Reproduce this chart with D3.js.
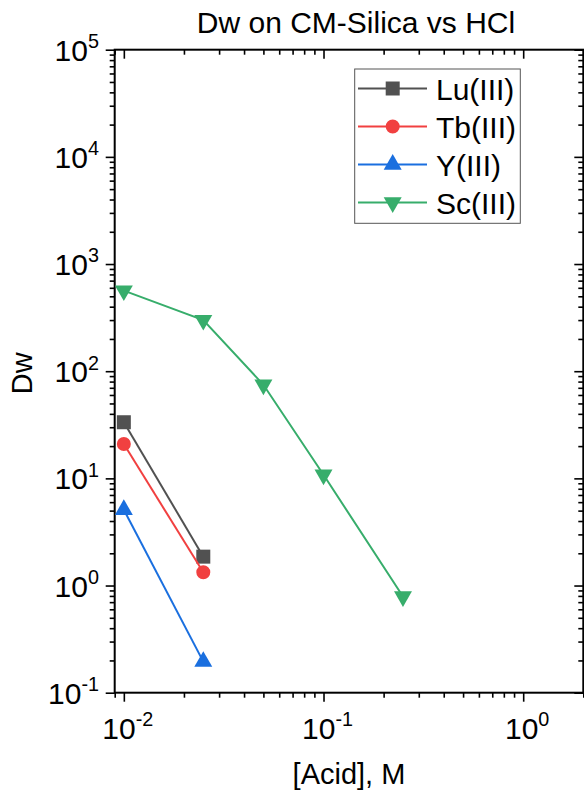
<!DOCTYPE html>
<html>
<head>
<meta charset="utf-8">
<script src="https://cdn.jsdelivr.net/npm/d3@7"></script>
<style>
  html, body { margin: 0; padding: 0; background: #fff; }
  svg { display: block; font-family: Arial, "Liberation Sans", sans-serif; }
</style>
</head>
<body>
<svg id="chart" width="584" height="790"></svg>
<script>
// Acid concentrations (M) for each series
const acidShort = [0.01, 0.025];
const acidSc = [0.01, 0.025, 0.05, 0.1, 0.25];

// Distribution coefficients Dw
const luValues = [33.4, 1.86];
const tbValues = [20.9, 1.33];
const yValues = [5.1, 0.195];
const scValues = [565, 300, 74.7, 10.8, 0.79];

const seriesNames = ["Lu(III)", "Tb(III)", "Y(III)", "Sc(III)"];
const seriesColors = ["#515151", "#F14040", "#1A6FDF", "#37AD6B"];

const xTickValues = [0.01, 0.1, 1];
const yTickValues = [0.1, 1, 10, 100, 1000, 10000, 100000];

const titleText = "Dw on CM-Silica vs HCl";
const xLabel = "[Acid], M";
const yLabel = "Dw";

const series = [
  { name: seriesNames[0], color: seriesColors[0], shape: "square", x: acidShort, y: luValues },
  { name: seriesNames[1], color: seriesColors[1], shape: "circle", x: acidShort, y: tbValues },
  { name: seriesNames[2], color: seriesColors[2], shape: "up", x: acidShort, y: yValues },
  { name: seriesNames[3], color: seriesColors[3], shape: "down", x: acidSc, y: scValues }
];

const svg = d3.select("#chart");
const plotL = 114.7, plotR = 583.3, plotT = 49.7, plotB = 692.7;
const FS = 30;

const x = d3.scaleLog().domain([0.009, 2.0]).range([plotL, plotR]);
const y = d3.scaleLog().domain([0.1, 1e5]).range([plotB, plotT]);

// minor ticks 2..9 per decade
function minors(domain) {
  const out = [];
  for (let e = -4; e <= 6; e++) {
    for (let m = 2; m <= 9; m++) {
      const v = m * Math.pow(10, e);
      if (v >= domain[0] * 0.9999 && v <= domain[1] * 1.0001) out.push(v);
    }
  }
  return out;
}
const xMinor = minors(x.domain());
const yMinor = minors(y.domain());

function styleAxis(g) {
  g.select(".domain").remove();
  g.selectAll(".tick line").attr("stroke", "#000").attr("stroke-width", 1.6);
  g.selectAll(".tick text").remove();
}

// bottom axis (outward ticks)
svg.append("g").attr("transform", `translate(0,${plotB})`)
  .call(d3.axisBottom(x).tickValues(xTickValues).tickSize(9)).call(styleAxis);
svg.append("g").attr("transform", `translate(0,${plotB})`)
  .call(d3.axisBottom(x).tickValues(xMinor).tickSize(5)).call(styleAxis);
// top axis (inward ticks)
svg.append("g").attr("transform", `translate(0,${plotT})`)
  .call(d3.axisTop(x).tickValues(xTickValues).tickSize(-9)).call(styleAxis);
svg.append("g").attr("transform", `translate(0,${plotT})`)
  .call(d3.axisTop(x).tickValues(xMinor).tickSize(-5)).call(styleAxis);
// left axis (outward ticks)
svg.append("g").attr("transform", `translate(${plotL},0)`)
  .call(d3.axisLeft(y).tickValues(yTickValues).tickSize(9)).call(styleAxis);
svg.append("g").attr("transform", `translate(${plotL},0)`)
  .call(d3.axisLeft(y).tickValues(yMinor).tickSize(5)).call(styleAxis);
// right axis (inward ticks)
svg.append("g").attr("transform", `translate(${plotR},0)`)
  .call(d3.axisRight(y).tickValues(yTickValues).tickSize(-9)).call(styleAxis);
svg.append("g").attr("transform", `translate(${plotR},0)`)
  .call(d3.axisRight(y).tickValues(yMinor).tickSize(-5)).call(styleAxis);

// frame
svg.append("rect")
  .attr("x", plotL).attr("y", plotT)
  .attr("width", plotR - plotL).attr("height", plotB - plotT)
  .attr("fill", "none").attr("stroke", "#000").attr("stroke-width", 2);

// power-of-ten labels
function powLabel(sel, v) {
  const e = Math.round(Math.log10(v));
  sel.append("tspan").text("10");
  sel.append("tspan").attr("dy", -FS * 0.42).attr("font-size", FS * 0.66).text(e);
}
xTickValues.forEach(v => {
  const t = svg.append("text").attr("x", x(v) + 4).attr("y", 739)
    .attr("text-anchor", "middle").attr("font-size", FS).attr("fill", "#000");
  powLabel(t, v);
});
yTickValues.forEach(v => {
  const t = svg.append("text").attr("x", 99).attr("y", y(v) + 11)
    .attr("text-anchor", "end").attr("font-size", FS).attr("fill", "#000");
  powLabel(t, v);
});

// titles
svg.append("text").attr("x", 356).attr("y", 33).attr("text-anchor", "middle")
  .attr("font-size", FS).text(titleText);
svg.append("text").attr("x", 349).attr("y", 784).attr("text-anchor", "middle")
  .attr("font-size", FS - 1).text(xLabel);
svg.append("text").attr("transform", `translate(32,${(plotT + plotB) / 2 + 2}) rotate(-90)`)
  .attr("text-anchor", "middle").attr("font-size", FS - 1).text(yLabel);

// marker shapes
function symbolPath(shape) {
  if (shape === "square") return d3.symbol().type(d3.symbolSquare).size(196)();
  if (shape === "circle") return d3.symbol().type(d3.symbolCircle).size(154)();
  return d3.symbol().type(d3.symbolTriangle).size(140)();
}
function symbolTransform(shape, px, py) {
  return shape === "down" ? `translate(${px},${py}) rotate(180)` : `translate(${px},${py})`;
}

const line = d3.line().x(d => x(d[0])).y(d => y(d[1]));
series.forEach(s => {
  const pts = s.x.map((v, i) => [v, s.y[i]]);
  svg.append("path").datum(pts).attr("d", line)
    .attr("fill", "none").attr("stroke", s.color).attr("stroke-width", 2);
  svg.selectAll(null).data(pts).enter().append("path")
    .attr("d", symbolPath(s.shape))
    .attr("transform", d => symbolTransform(s.shape, x(d[0]), y(d[1])))
    .attr("fill", s.color);
});

// legend
const lg = svg.append("g");
lg.append("rect").attr("x", 354.7).attr("y", 69).attr("width", 165.6).attr("height", 154.3)
  .attr("fill", "#fff").attr("stroke", "#555").attr("stroke-width", 1);
series.forEach((s, i) => {
  const cy = 88.5 + i * 38;
  lg.append("line").attr("x1", 358).attr("x2", 427).attr("y1", cy).attr("y2", cy)
    .attr("stroke", s.color).attr("stroke-width", 2);
  lg.append("path").attr("d", symbolPath(s.shape))
    .attr("transform", symbolTransform(s.shape, 392.7, cy)).attr("fill", s.color);
  lg.append("text").attr("x", 436).attr("y", cy + 11).attr("font-size", FS).text(s.name);
});
</script>
</body>
</html>
